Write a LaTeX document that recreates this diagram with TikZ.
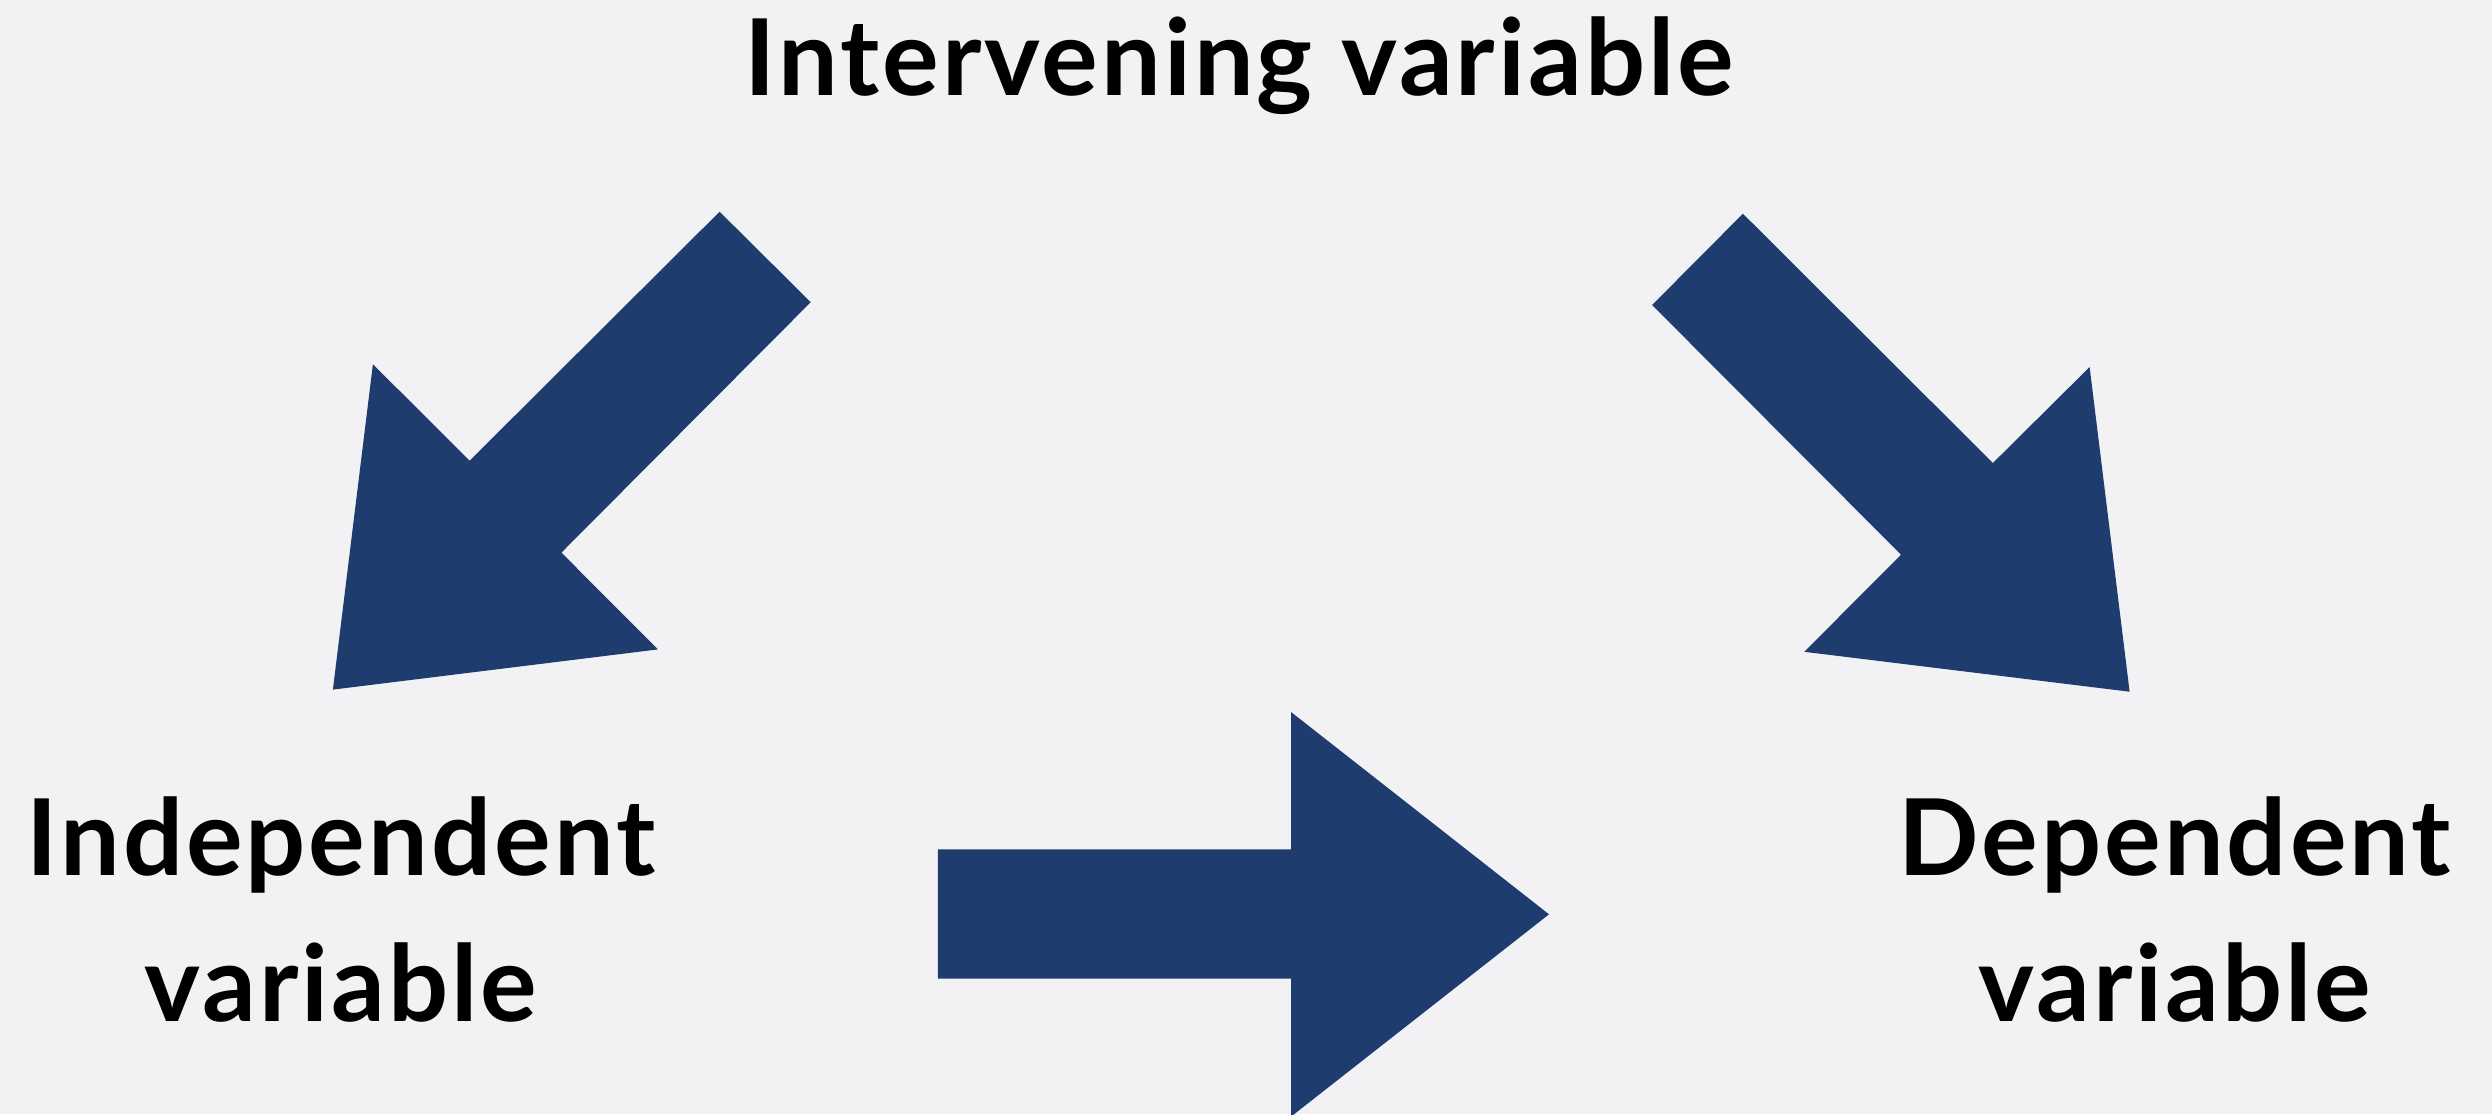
\documentclass[tikz,border=0pt]{standalone}
\usepackage{fontspec}
\setmainfont{Lato}[LetterSpace=2.8]
\definecolor{arrowblue}{HTML}{1F3C6E}
\definecolor{bgcol}{HTML}{F2F2F4}
\tikzset{
  lbl/.style={font=\bfseries\fontsize{53}{73}\selectfont, text=black, inner sep=0pt, align=center},
  blockarrow/.style={fill=arrowblue, draw=none}
}
\begin{document}
\begin{tikzpicture}[x=0.5pt,y=-0.5pt]
\fill[bgcol] (0,0) rectangle (2492,1114);
\useasboundingbox (0,0) rectangle (2492,1114);
\clip (0,0) rectangle (2492,1114);
% labels (base anchor = baseline of last line)
\node[lbl, anchor=base] (interv) at (1239.5,95) {Intervening variable};
\node[lbl, anchor=base] (indep) at (341,1021) {Independent\\variable};
\node[lbl, anchor=base] (dep) at (2175,1021) {Dependent\\variable};
% left diagonal arrow (intervening -> independent)
\fill[blockarrow] (719.6,211.7) -- (810.7,302.2) -- (561.4,552.6) -- (657.9,649.4)
  -- (332.9,689.6) -- (372.9,364.2) -- (469.6,460.7) -- cycle;
% right diagonal arrow (intervening -> dependent)
\fill[blockarrow] (1742.9,213.7) -- (1652.1,305) -- (1901,554.7) -- (1804.3,651.8)
  -- (2129.6,691.7) -- (2089.6,367) -- (1992.9,463) -- cycle;
% horizontal arrow (independent -> dependent)
\fill[blockarrow] (937.9,849.3) -- (1291,849.3) -- (1291,712) -- (1549,914.3)
  -- (1291,1116.6) -- (1291,978.7) -- (937.9,978.7) -- cycle;
\end{tikzpicture}
\end{document}
